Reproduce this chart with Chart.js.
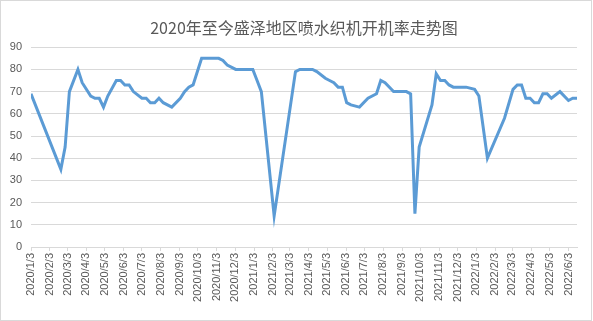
<!DOCTYPE html>
<html>
<head>
<meta charset="utf-8">
<script src="https://cdn.jsdelivr.net/npm/chart.js@4"></script>
<style>
html,body{margin:0;padding:0;background:#fff;}
#wrap{width:593px;height:321px;position:relative;}
</style>
</head>
<body>
<div id="wrap"><canvas id="c" width="593" height="321"></canvas></div>
<script>
const TITLE = '2020年至今盛泽地区喷水织机开机率走势图';
const dates = ['2020/1/3','2020/2/21','2020/2/28','2020/3/6','2020/3/20','2020/3/27','2020/4/10','2020/4/17','2020/4/24','2020/5/1','2020/5/8','2020/5/22','2020/5/29','2020/6/5','2020/6/12','2020/6/19','2020/7/3','2020/7/10','2020/7/17','2020/7/24','2020/7/31','2020/8/7','2020/8/21','2020/9/4','2020/9/11','2020/9/18','2020/9/25','2020/10/9','2020/11/6','2020/11/13','2020/11/20','2020/12/4','2021/1/1','2021/1/8','2021/1/15','2021/2/5','2021/3/12','2021/3/19','2021/4/9','2021/4/16','2021/4/30','2021/5/7','2021/5/14','2021/5/21','2021/5/28','2021/6/4','2021/6/11','2021/6/25','2021/7/9','2021/7/23','2021/7/30','2021/8/6','2021/8/20','2021/9/10','2021/9/17','2021/9/24','2021/10/1','2021/10/22','2021/10/29','2021/11/5','2021/11/12','2021/11/19','2021/11/26','2021/12/10','2021/12/17','2021/12/31','2022/1/7','2022/1/21','2022/2/18','2022/3/4','2022/3/11','2022/3/18','2022/3/25','2022/4/1','2022/4/8','2022/4/15','2022/4/22','2022/4/29','2022/5/6','2022/5/20','2022/6/3','2022/6/10','2022/6/17'];
const rates = [69,35,45,70,80,74,68,67,67,63,68,75,75,73,73,70,67,67,65,65,67,65,63,67,70,72,73,85,85,84,82,80,80,75,70,14,79,80,80,79,76,75,74,72,72,65,64,63,67,69,75,74,70,70,69,15,45,64,78,75,75,73,72,72,72,71,68,40,58,71,73,73,67,67,65,65,69,69,67,70,66,67,67];
const monthLabels = ['2020/1/3','2020/2/3','2020/3/3','2020/4/3','2020/5/3','2020/6/3','2020/7/3','2020/8/3','2020/9/3','2020/10/3','2020/11/3','2020/12/3','2021/1/3','2021/2/3','2021/3/3','2021/4/3','2021/5/3','2021/6/3','2021/7/3','2021/8/3','2021/9/3','2021/10/3','2021/11/3','2021/12/3','2022/1/3','2022/2/3','2022/3/3','2022/4/3','2022/5/3','2022/6/3'];

function dayOf(s){
  const p = s.split('/').map(Number);
  return Math.round((Date.UTC(p[0],p[1]-1,p[2]) - Date.UTC(2020,0,3)) / 86400000);
}
const points = dates.map((d,i)=>({x: dayOf(d), y: rates[i]}));
const tickDays = monthLabels.map(dayOf);
const labelByDay = {};
tickDays.forEach((d,i)=>{ labelByDay[d] = monthLabels[i]; });

const frame = {
  id:'frame',
  beforeDraw(chart){
    const ctx = chart.ctx;
    ctx.save();
    ctx.fillStyle = '#fff';
    ctx.fillRect(0,0,chart.width,chart.height);
    ctx.strokeStyle = '#d9d9d9';
    ctx.lineWidth = 1;
    ctx.strokeRect(0.5,0.5,chart.width-2,chart.height-1);
    ctx.restore();
  }
};

new Chart(document.getElementById('c'), {
  type: 'line',
  data: {
    datasets: [{
      data: points,
      borderColor: '#5b9bd5',
      borderWidth: 3,
      pointRadius: 0,
      tension: 0,
      fill: false
    }]
  },
  options: {
    responsive: false,
    animation: false,
    devicePixelRatio: 1,
    layout: { padding: { left: 0, right: 16, top: 0, bottom: 0 } },
    plugins: {
      legend: { display: false },
      tooltip: { enabled: false },
      title: {
        display: true,
        text: TITLE,
        fullSize: false,
        color: '#595959',
        font: { family: "'Noto Sans CJK SC', sans-serif", size: 16, weight: 'normal' },
        padding: { top: 18, bottom: 10 }
      }
    },
    scales: {
      x: {
        type: 'linear',
        min: 0,
        max: dayOf('2022/6/17'),
        afterBuildTicks(scale){ scale.ticks = tickDays.map(v=>({value:v})); },
        afterFit(scale){ scale.height = 74; },
        grid: { drawOnChartArea: false, drawTicks: true, tickLength: 4, color: '#d9d9d9' },
        border: { display: true, color: '#d9d9d9' },
        ticks: {
          autoSkip: false,
          minRotation: 90,
          maxRotation: 90,
          padding: 2,
          color: '#595959',
          font: { family: "'Liberation Sans', sans-serif", size: 11 },
          callback: (v) => labelByDay[v] || ''
        }
      },
      y: {
        min: 0,
        max: 90,
        afterFit(scale){ scale.width = 31; },
        grid: { color: '#d9d9d9', drawTicks: false },
        border: { display: false },
        ticks: {
          stepSize: 10,
          padding: 9,
          color: '#595959',
          font: { family: "'Liberation Sans', sans-serif", size: 11 }
        }
      }
    }
  },
  plugins: [frame]
});
</script>
</body>
</html>
